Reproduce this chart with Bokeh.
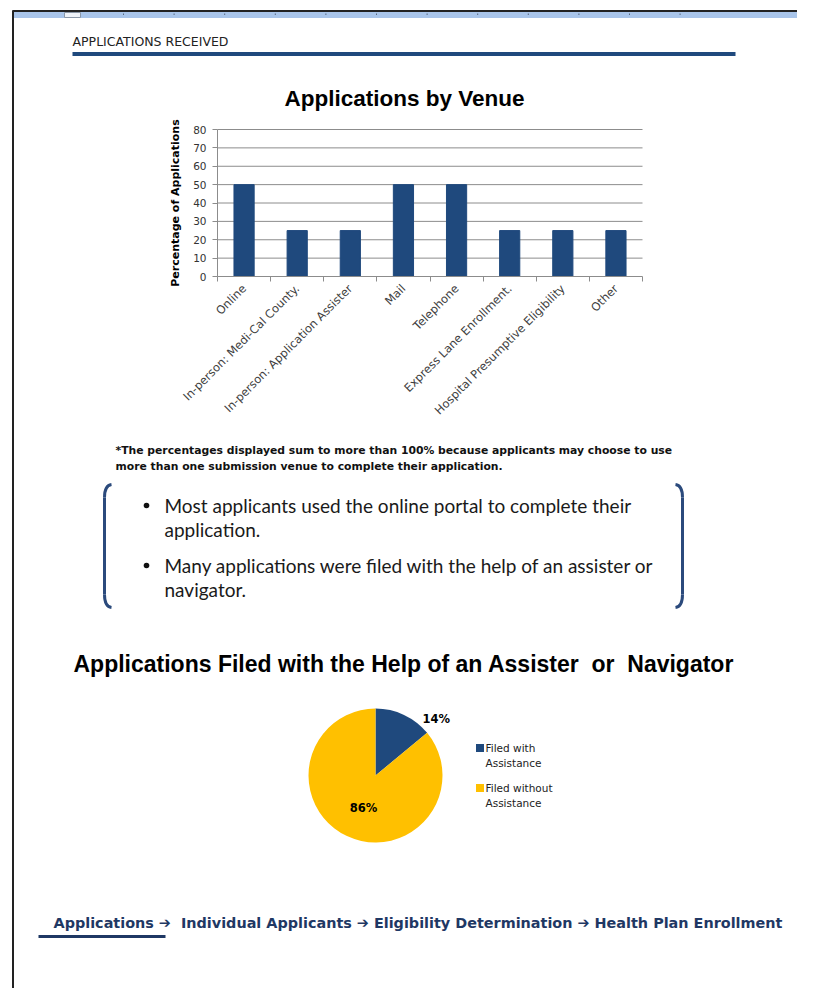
import math
from bokeh.plotting import figure
from bokeh.models import Range1d, FixedTicker, LinearAxis
from bokeh.core.properties import value
from bokeh.embed import file_html
from bokeh.resources import INLINE

# ---------------- data ----------------
section_label = "APPLICATIONS RECEIVED"
bar_title = "Applications by Venue"
y_axis_label = "Percentage of Applications"
categories = [
    "Online",
    "In-person: Medi-Cal County.",
    "In-person: Application Assister",
    "Mail",
    "Telephone",
    "Express Lane Enrollment.",
    "Hospital Presumptive Eligibility",
    "Other",
]
percentages = [50, 25, 25, 50, 50, 25, 25, 25]
y_ticks = [0, 10, 20, 30, 40, 50, 60, 70, 80]

footnote_lines = [
    "*The percentages displayed sum to more than 100% because applicants may choose to use",
    "more than one submission venue to complete their application.",
]
bullet_lines = [
    ["Most applicants used the online portal to complete their", "application."],
    ["Many applications were filed with the help of an assister or", "navigator."],
]

pie_title = "Applications Filed with the Help of an Assister\u00a0 or\u00a0 Navigator"
pie_labels = ["Filed with Assistance", "Filed without Assistance"]
pie_values = [14, 86]
pie_colors = ["#1F497D", "#FFC000"]

footer_text = "Applications \u2794\u00a0 Individual Applicants \u2794 Eligibility Determination \u2794 Health Plan Enrollment"

# ---------------- styles / layout constants (picture pixels) ----------------
NAVY = "#1F497D"
BORDER = "#222222"
ARIAL = value("Liberation Sans")
WIDE = value("DejaVu Sans")
PX0, PX1, PY0, PY1 = 0, 797, 0, 988          # area covered by the figure
FRAME_L, FRAME_R, FRAME_T, FRAME_B = 217, 642, 129, 276   # bar-chart plot area

p = figure(width=PX1 - PX0, height=PY1 - PY0,
           x_range=Range1d(PX0, PX1), y_range=Range1d(PY1, PY0),
           output_backend="svg", toolbar_location=None, min_border=0,
           x_axis_location=None, y_axis_location=None)
p.grid.visible = False
p.outline_line_color = None
p.background_fill_color = "white"
p.border_fill_color = "white"

# ---------------- page chrome ----------------
p.segment(x0=12.5, y0=10, x1=12.5, y1=PY1, line_color=BORDER, line_width=2)
p.segment(x0=12, y0=10.5, x1=PX1, y1=10.5, line_color=BORDER, line_width=2)
p.quad(left=13.5, right=PX1, top=11.5, bottom=17.5, fill_color="#A9C5EA", line_color=None)
p.quad(left=64, right=80, top=12, bottom=17, fill_color="#EEF2F8", line_color="#8A97A8", line_width=1)
ruler_ticks = [123 + 50.6 * i for i in range(12)]
p.segment(x0=ruler_ticks, y0=[13] * 12, x1=ruler_ticks, y1=[14.5] * 12, line_color="#5A6A80", line_width=1)
p.text(x=[72], y=[41], text=[section_label], text_font=WIDE, text_font_size="12.5px",
       text_color="#222222", text_baseline="middle", text_align="left")
p.quad(left=72, right=735, top=51.5, bottom=55.5, fill_color=NAVY, line_color=None)

# ---------------- bar chart ----------------
p.text(x=[404], y=[98], text=[bar_title], text_font=ARIAL, text_font_size="22.5px",
       text_font_style="bold", text_color="#000000", text_baseline="middle", text_align="center")

n = len(categories)
positions = list(range(n))
boundaries = [i - 0.5 for i in range(n + 1)]
x_lo, x_hi = -0.5, n - 0.5
y_lo, y_hi = y_ticks[0], y_ticks[-1]
sx = (x_hi - x_lo) / (FRAME_R - FRAME_L)
sy = (y_hi - y_lo) / (FRAME_B - FRAME_T)
p.extra_x_ranges = {"bars": Range1d(x_lo - (FRAME_L - PX0) * sx, x_hi + (PX1 - FRAME_R) * sx)}
p.extra_y_ranges = {"bars": Range1d(y_lo - (PY1 - FRAME_B) * sy, y_hi + (FRAME_T - PY0) * sy)}

GRID = "#8C8C8C"
p.segment(x0=x_lo, x1=x_hi, y0=y_ticks[1:], y1=y_ticks[1:], line_color=GRID, line_width=1,
          x_range_name="bars", y_range_name="bars")
p.vbar(x=positions, top=percentages, width=0.38, fill_color=NAVY, line_color=NAVY,
       x_range_name="bars", y_range_name="bars")

ya = LinearAxis(x_range_name="bars", y_range_name="bars", fixed_location=x_lo,
                bounds=(y_lo, y_hi), ticker=FixedTicker(ticks=y_ticks))
ya.axis_line_color = GRID
ya.major_tick_line_color = GRID
ya.major_tick_out = 5
ya.major_tick_in = 0
ya.minor_tick_line_color = None
ya.major_label_text_font = "DejaVu Sans"
ya.major_label_text_font_size = "10.5px"
ya.major_label_text_color = "#333333"
ya.major_label_standoff = 6
ya.axis_label = y_axis_label
ya.axis_label_text_font = "DejaVu Sans"
ya.axis_label_text_font_size = "11px"
ya.axis_label_text_font_style = "bold"
ya.axis_label_text_color = "#000000"
ya.axis_label_standoff = 8
p.add_layout(ya, "left")

xa = LinearAxis(x_range_name="bars", y_range_name="bars", fixed_location=y_lo,
                bounds=(x_lo, x_hi), ticker=FixedTicker(ticks=positions, minor_ticks=boundaries))
xa.major_label_overrides = {i: c for i, c in zip(positions, categories)}
xa.major_label_orientation = math.pi / 4
xa.major_label_text_font = "DejaVu Sans"
xa.major_label_text_font_size = "11.5px"
xa.major_label_text_color = "#404040"
xa.major_label_standoff = 4
xa.axis_line_color = GRID
xa.major_tick_line_color = None
xa.minor_tick_line_color = GRID
xa.minor_tick_out = 5
xa.minor_tick_in = 0
p.add_layout(xa, "below")

# ---------------- footnote + bullets ----------------
p.text(x=[115, 115], y=[450, 466], text=footnote_lines, text_font=WIDE, text_font_size="10.8px",
       text_font_style="bold", text_color="#111111", text_baseline="middle", text_align="left")

BR = "#2B4A7C"
for xo, xi in [(104, 111), (682, 675)]:
    p.quadratic(x0=[xi], y0=[484], x1=[xo], y1=[497], cx=[xo], cy=[485], line_color=BR, line_width=3)
    p.segment(x0=xo, y0=497, x1=xo, y1=594, line_color=BR, line_width=3)
    p.quadratic(x0=[xo], y0=[594], x1=[xi], y1=[607], cx=[xo], cy=[606], line_color=BR, line_width=3)

line_ys = [[505, 529], [565, 589]]
for lines, ys in zip(bullet_lines, line_ys):
    p.circle(x=[146], y=[ys[0]], radius=2.8, fill_color="#111111", line_color=None)
    p.text(x=[164] * len(lines), y=ys, text=lines, text_font=value("Lato"), text_font_size="19px",
           text_color="#1A1A1A", text_baseline="middle", text_align="left")

# ---------------- pie ----------------
p.text(x=[73], y=[663], text=[pie_title], text_font=ARIAL, text_font_size="23px",
       text_font_style="bold", text_color="#000000", text_baseline="middle", text_align="left")

cx, cy, R = 375, 775, 67
total = float(sum(pie_values))
starts, ends, mids = [], [], []
acc = 0.0
for v in pie_values:
    a0 = math.pi / 2 - 2 * math.pi * acc / total
    a1 = math.pi / 2 - 2 * math.pi * (acc + v) / total
    starts.append(a0)
    ends.append(a1)
    mids.append((a0 + a1) / 2)
    acc += v
p.wedge(x=cx, y=cy, radius=R, start_angle=starts, end_angle=ends, direction="clock",
        fill_color=pie_colors, line_color=None)

label_r = [1.24, 0.52]
label_shift = [math.radians(-21.8), math.radians(5)]
lx = [cx + R * k * math.cos(m + s) for k, m, s in zip(label_r, mids, label_shift)]
ly = [cy - R * k * math.sin(m + s) for k, m, s in zip(label_r, mids, label_shift)]
p.text(x=lx, y=ly, text=[f"{v}%" for v in pie_values], text_font=WIDE, text_font_size="11.5px",
       text_font_style="bold", text_color="#000000", text_baseline="middle", text_align="center")

leg_y = [747.5, 787.5]
p.rect(x=[479.5] * 2, y=leg_y, width=8, height=8, fill_color=pie_colors, line_color=None)
for lab, y0 in zip(pie_labels, leg_y):
    first, second = lab.rsplit(" ", 1)
    p.text(x=[485, 485], y=[y0, y0 + 15], text=[first, second], text_font=WIDE,
           text_font_size="10.5px", text_color="#222222", text_baseline="middle", text_align="left")

# ---------------- footer ----------------
p.text(x=[53], y=[922], text=[footer_text], text_font=WIDE, text_font_size="14.4px",
       text_font_style="bold", text_color="#1F3864", text_baseline="middle", text_align="left")
p.segment(x0=38, y0=936, x1=165, y1=936, line_color="#1F3864", line_width=3)

open("out.html", "w").write(file_html(p, INLINE))
